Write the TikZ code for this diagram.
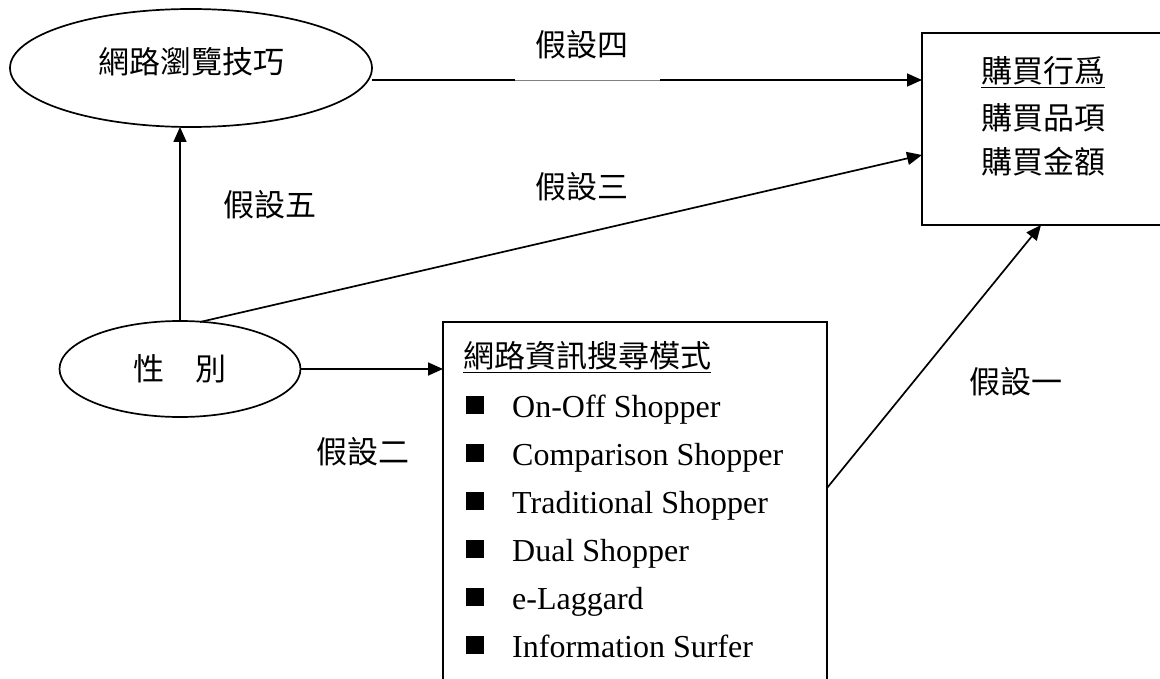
\documentclass[tikz,border=0pt]{standalone}
\usepackage{fontspec}
\setmainfont{Liberation Serif}
\newfontfamily\cjk{Noto Sans CJK TC}
\usetikzlibrary{arrows.meta,shapes.geometric}
\begin{document}
\begin{tikzpicture}[x=1pt,y=-1pt,
  conn/.style={line width=1.7pt,-{Triangle[length=15pt,width=13pt]}},
  shp/.style={draw,line width=1.7pt,inner sep=0pt},
  lab/.style={font=\cjk\fontsize{31}{31}\selectfont,inner sep=0pt},
  item/.style={font=\fontsize{32}{32}\selectfont,anchor=west,inner sep=0pt},
  bul/.style={fill=black,minimum size=18pt,inner sep=0pt}]
\useasboundingbox (0,0) rectangle (1160,679);
\clip (0,0) rectangle (1160,679);
% shapes
\node[shp,ellipse,minimum width=362pt,minimum height=118pt] (skill) at (191,68) {};
\node[lab] (skillt) at (191,62) {網路瀏覽技巧};
\node[shp,ellipse,minimum width=241pt,minimum height=96pt] (sex) at (180,369) {};
\node[lab] (sext) at (180,369) {性\hspace{1em}別};
\node[shp,rectangle,minimum width=250pt,minimum height=192pt] (buy) at (1047,129) {};
\node[lab] (buy1) at (1043,72) {\underline{購買行爲}};
\node[lab] (buy2) at (1043,118) {購買品項};
\node[lab] (buy3) at (1043,162) {購買金額};
\node[shp,rectangle,minimum width=384pt,minimum height=400pt] (mode) at (635,522) {};
\node[lab,anchor=west] (modet) at (463,357) {\underline{網路資訊搜尋模式}};
\foreach \i/\t in {0/On-Off Shopper,1/Comparison Shopper,2/Traditional Shopper,3/Dual Shopper,4/e-Laggard,5/Information Surfer}{
  \node[bul] (b\i) at (475,{405+48*\i}) {};
  \node[item,anchor=base west] (t\i) at (512,{417+48*\i}) {\t};
}
% connector anchors
\coordinate (skillE) at (372,80);
\coordinate (buyA) at (922,80);
\coordinate (buyB) at (922,155);
\coordinate (buyC) at (1041,225);
\coordinate (sexTop) at (180,321);
\coordinate (sexTopR) at (200,322);
\coordinate (skillB) at (180,127);
\coordinate (sexE) at (300,369);
\coordinate (modeW) at (443,369);
\coordinate (modeE) at (827,488);
\coordinate (gapL) at (515,80);
\coordinate (gapR) at (660,80);
% connectors
\draw[conn] (skillE) -- (buyA);
\draw[white,line width=2.8pt] (gapL) -- (gapR);
\draw[gray,line width=0.8pt] (gapL) -- (gapR);
\draw[conn] (sexTopR) -- (buyB);
\draw[conn] (sexTop) -- (skillB);
\draw[conn] (sexE) -- (modeW);
\draw[conn] (modeE) -- (buyC);
% labels
\node[lab] (h4) at (582,45) {假設四};
\node[lab] (h3) at (582,187) {假設三};
\node[lab] (h5) at (270,205) {假設五};
\node[lab] (h1) at (1016,382) {假設一};
\node[lab] (h2) at (363,452) {假設二};
\end{tikzpicture}
\end{document}
